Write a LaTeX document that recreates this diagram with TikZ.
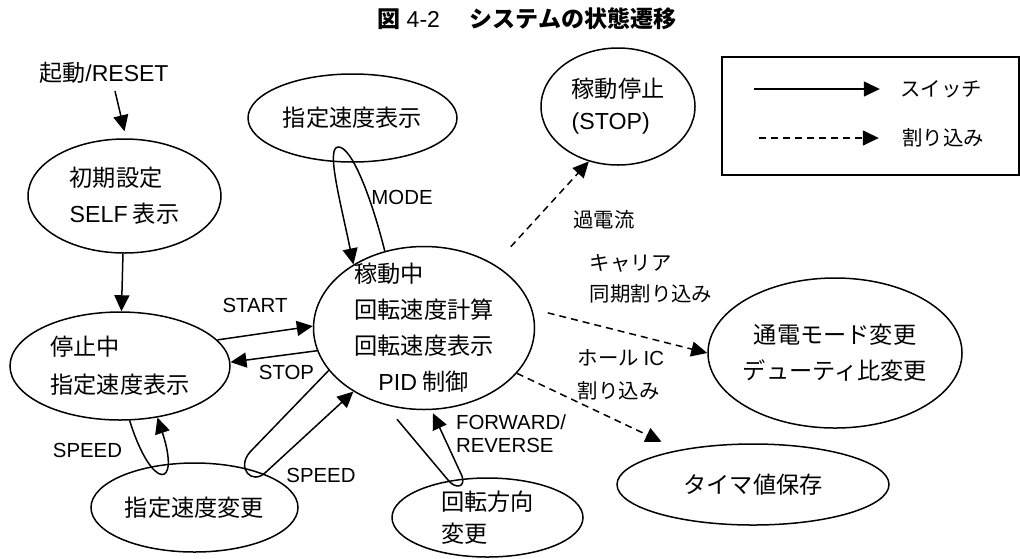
\documentclass[tikz,border=0pt]{standalone}
\usepackage{fontspec}
\setmainfont{Liberation Sans}
\newfontfamily\jp{Noto Sans CJK JP}
\newcommand\lat[1]{{\rmfamily#1}}
\usetikzlibrary{shapes.geometric,arrows.meta,calc}

\begin{document}
\begin{tikzpicture}[x=0.5pt,y=-0.5pt,
  st/.style={draw,ellipse,line width=0.75pt,inner sep=-8pt,align=left,font=\fontsize{11.6}{18}\selectfont\jp},
  lb/.style={inner sep=0pt,font=\fontsize{10.2}{11.5}\selectfont},
  jlb/.style={inner sep=0pt,font=\fontsize{10.2}{15.5}\selectfont\jp},
  sw/.style={line width=0.75pt,-{Triangle[length=8pt,width=7.5pt]}},
  intr/.style={sw,dash pattern=on 3.5pt off 2.5pt}]
  \useasboundingbox (0,0) rectangle (1020,558);

  \node[lb,font=\fontsize{11.5}{14}\selectfont] (title) at (527,19)
    {{\jp\bfseries 図}\hspace{3pt}4-2\hspace{15pt}{\jp\bfseries システムの状態遷移}};
  \node[lb,font=\fontsize{11.5}{14}\selectfont] (reset) at (104,73) {{\jp 起動}/RESET};

  \node[st,minimum width=96.5pt,minimum height=57pt] (init) at (124.5,196) {初期設定\\\lat{SELF} 表示};
  \node[st,minimum width=110pt,minimum height=54pt] (halt) at (120,366) {停止中\\[1pt]指定速度表示};
  \node[st,minimum width=104.5pt,minimum height=44pt] (disp) at (352.5,118) {指定速度表示};
  \node[st,minimum width=110.5pt,minimum height=81.5pt] (kado) at (424,328)
    {稼動中\\回転速度計算\\回転速度表示\\\hspace*{12pt}\lat{PID} 制御};
  \node[st,minimum width=77pt,minimum height=58.5pt] (ostop) at (618,106.5) {稼動停止\\[-2pt]\lat{(STOP)}};
  \node[st,align=center,minimum width=127pt,minimum height=75pt] (pwm) at (835,353) {通電モード変更\\デューティ比変更};
  \node[st,minimum width=136pt,minimum height=40.5pt] (timer) at (753,484.5) {タイマ値保存};
  \node[st,minimum width=95.5pt,minimum height=39.5pt] (dir) at (487.5,517.5) {回転方向\\[-2pt]変更};
  \node[st,minimum width=103.5pt,minimum height=44.5pt] (chg) at (194.5,507.5) {指定速度変更};

  \node[lb] (lstart) at (255,305) {START};
  \node[lb] (lstop) at (286.5,372) {STOP};
  \node[lb] (lspd1) at (87.5,450) {SPEED};
  \node[lb] (lspd2) at (321,475) {SPEED};
  \node[lb] (lmode) at (402,197) {MODE};
  \node[lb,align=left] (lfwd) at (511,433.5) {FORWARD/\\REVERSE};
  \node[jlb] (locur) at (604,220) {過電流};
  \node[jlb,align=left] (lcar) at (651,278.5) {キャリア\\同期割り込み};
  \node[jlb,align=left] (lhall) at (621,374.5) {ホール \lat{IC}\\[1pt]割り込み};

  \draw[line width=0.75pt] (722,57) rectangle (1019,175);
  \node[jlb] (lsw) at (941,89) {スイッチ};
  \node[jlb] (lint) at (943,138) {割り込み};
  \draw[sw] ([xshift=-73pt]lsw.west) -- ([xshift=-10pt]lsw.west);
  \draw[intr] ([xshift=-71.5pt]lint.west) -- ([xshift=-11.5pt]lint.west);

  \draw[sw] ([xshift=5.5pt,yshift=-3.5pt]reset.south) -- ([yshift=3.5pt]init.north);
  \draw[sw] (init) -- (halt);
  \draw[sw] (halt.15) -- (kado.179);
  \draw[sw] (kado.192) -- (halt.2);
  \draw[sw] (halt.280) .. controls (152,492) and (181,489) .. (halt.306);
  \draw[sw] (kado.204) -- (250,452) .. controls (236,468) and (252,486) .. (266,472) -- (kado.222);
  \draw[sw] (kado.117) .. controls (372,200) and (352,146) .. (338,147)
    .. controls (326,148) and (340,200) .. (kado.138);
  \draw[sw] ($(kado.south)+(-27,9)$) -- (448,480) .. controls (455,489) and (466,488) .. (462,476)
    -- ($(kado.south)+(9,3)$);

  \draw[intr,shorten <=12pt] (kado.42) -- (ostop.242);
  \draw[intr,shorten <=8pt] (kado.10) -- (pwm.west);
  \draw[intr,shorten >=9.5pt] (kado.334) -- (timer.155);
\end{tikzpicture}
\end{document}
